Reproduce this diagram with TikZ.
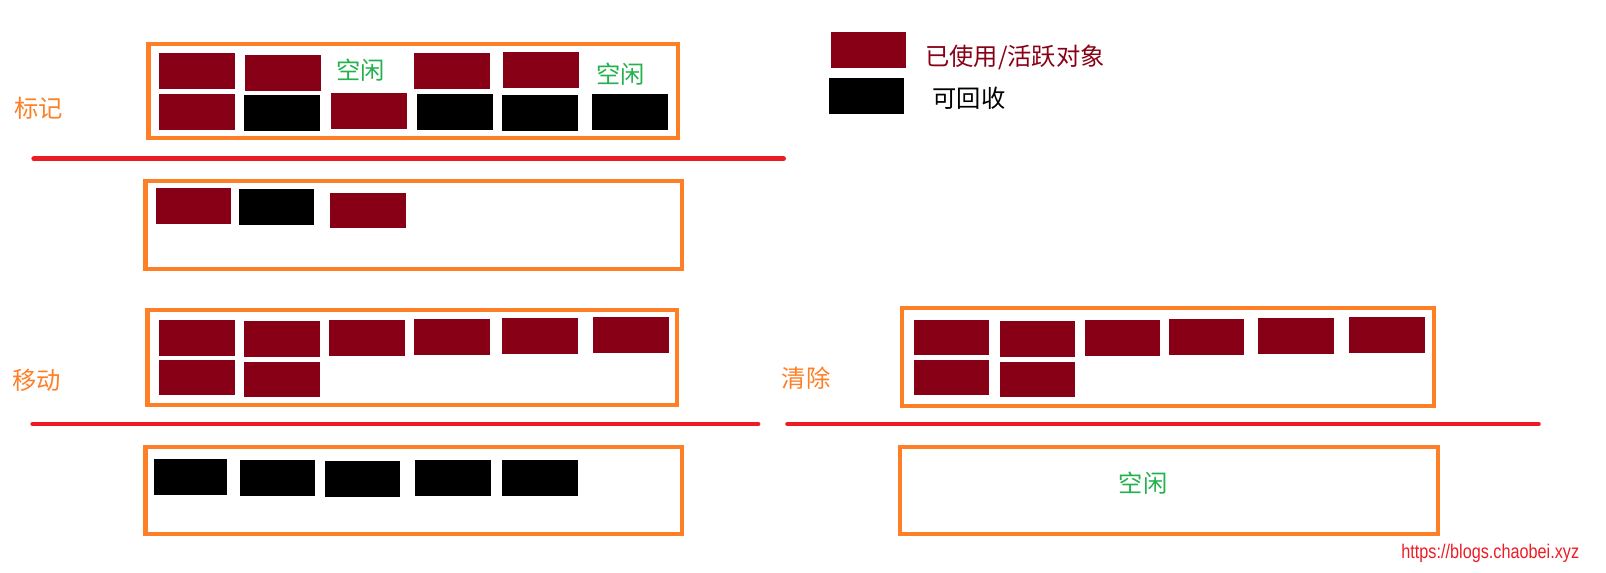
\documentclass[tikz,border=0pt]{standalone}
\usepackage{fontspec}
\usepackage{xcolor}
\usepackage{tikz}
\usetikzlibrary{positioning}
\newfontfamily\cjk{Noto Sans CJK SC}
\newfontfamily\urlfont{Liberation Sans}
\definecolor{usedred}{RGB}{136,0,21}
\definecolor{heaporange}{RGB}{255,127,39}
\definecolor{linered}{RGB}{237,28,36}
\definecolor{freegreen}{RGB}{34,177,76}

\begin{document}
\begin{tikzpicture}[
    x=0.02cm, y=-0.02cm,
    every node/.style={inner sep=0pt, font=\cjk\fontsize{13.5}{16}\selectfont},
    live/.style={fill=usedred, minimum width=1.48cm, minimum height=0.7cm},
    dead/.style={fill=black, minimum width=1.48cm, minimum height=0.7cm},
    heap/.style={draw=heaporange, line width=2.3pt, minimum height=1.84cm},
    stage/.style={text=heaporange},
    freetext/.style={text=freegreen},
    sepline/.style={draw=linered, line width=2.7pt, line cap=round},
  ]
  \useasboundingbox (0,0) rectangle (1568,559);

  % legend
  \node[live] (keylive) at (848,48.5) {};
  \node[dead] (keydead) at (846,94) {};
  \node[text=usedred, anchor=west] (keylivetxt) at (903,56) {已使用/活跃对象};
  \node[anchor=west] (keydeadtxt) at (910,96) {可回收};

  % mark
  \node[stage] (mark) at (38,106) {标记};
  \node[heap, minimum width=10.34cm] (heapa) at (403.5,89) {};
  \node[live] (a1) at (192,69.5) {};
  \node[live] (a2) at (276,71.5) {};
  \node[freetext] (a3) at (352,69) {空闲};
  \node[live] (a4) at (441,69.5) {};
  \node[live] (a5) at (528,68.5) {};
  \node[freetext] (a6) at (606,72) {空闲};
  \node[live] (b1) at (192,109.5) {};
  \node[dead] (b2) at (275,110.5) {};
  \node[live] (b3) at (360,108.5) {};
  \node[dead] (b4) at (444,109.5) {};
  \node[dead] (b5) at (527,110.5) {};
  \node[dead] (b6) at (615,109.5) {};

  \coordinate (sepa1) at (33,155);
  \coordinate (sepa2) at (765,155);
  \draw[sepline] (sepa1) -- (sepa2);

  \node[heap, minimum width=10.48cm, minimum height=1.72cm] (heapb) at (404,220) {};
  \node[live] (c1) at (189,201.5) {};
  \node[dead] (c2) at (270,202.5) {};
  \node[live] (c3) at (359,205.5) {};

  % move
  \node[stage] (move) at (36,371) {移动};
  \node[heap, minimum width=10.34cm] (heapc) at (402.5,349) {};
  \node[live] (d1) at (192,330) {};
  \node[live] (d2) at (275,331) {};
  \node[live] (d3) at (358,330) {};
  \node[live] (d4) at (441,329) {};
  \node[live] (d5) at (527,328) {};
  \node[live] (d6) at (616,327) {};
  \node[live] (d7) at (192,368.5) {};
  \node[live] (d8) at (275,370.5) {};

  \coordinate (sepb1) at (32,414);
  \coordinate (sepb2) at (740,414);
  \draw[sepline] (sepb1) -- (sepb2);

  \node[heap, minimum width=10.48cm, minimum height=1.7cm] (heapd) at (404,478.5) {};
  \node[dead, minimum width=1.44cm] (e1) at (186,465.5) {};
  \node[dead] (e2) at (271,466.5) {};
  \node[dead] (e3) at (354,467.5) {};
  \node[dead] (e4) at (442,466.5) {};
  \node[dead] (e5) at (527,466.5) {};

  % sweep
  \node[stage] (sweep) at (787,369) {清除};
  \node[heap, minimum width=10.38cm, minimum height=1.9cm] (heape) at (1140.5,348.5) {};
  \node[live] (f1) at (929,329.5) {};
  \node[live] (f2) at (1013,331) {};
  \node[live] (f3) at (1096,330) {};
  \node[live] (f4) at (1178,329) {};
  \node[live] (f5) at (1265,328) {};
  \node[live] (f6) at (1354,327) {};
  \node[live] (f7) at (929,368.5) {};
  \node[live] (f8) at (1013,370.5) {};

  \coordinate (sepc1) at (769,414);
  \coordinate (sepc2) at (1502,414);
  \draw[sepline] (sepc1) -- (sepc2);

  \node[heap, minimum width=10.5cm, minimum height=1.7cm] (heapf) at (1141.5,478.5) {};
  \node[freetext] (g1) at (1116,472) {空闲};

  \node[text=linered, xscale=0.82, font=\urlfont\fontsize{11}{12}\selectfont] (site) at (1455,540) {https://blogs.chaobei.xyz};
\end{tikzpicture}
\end{document}
